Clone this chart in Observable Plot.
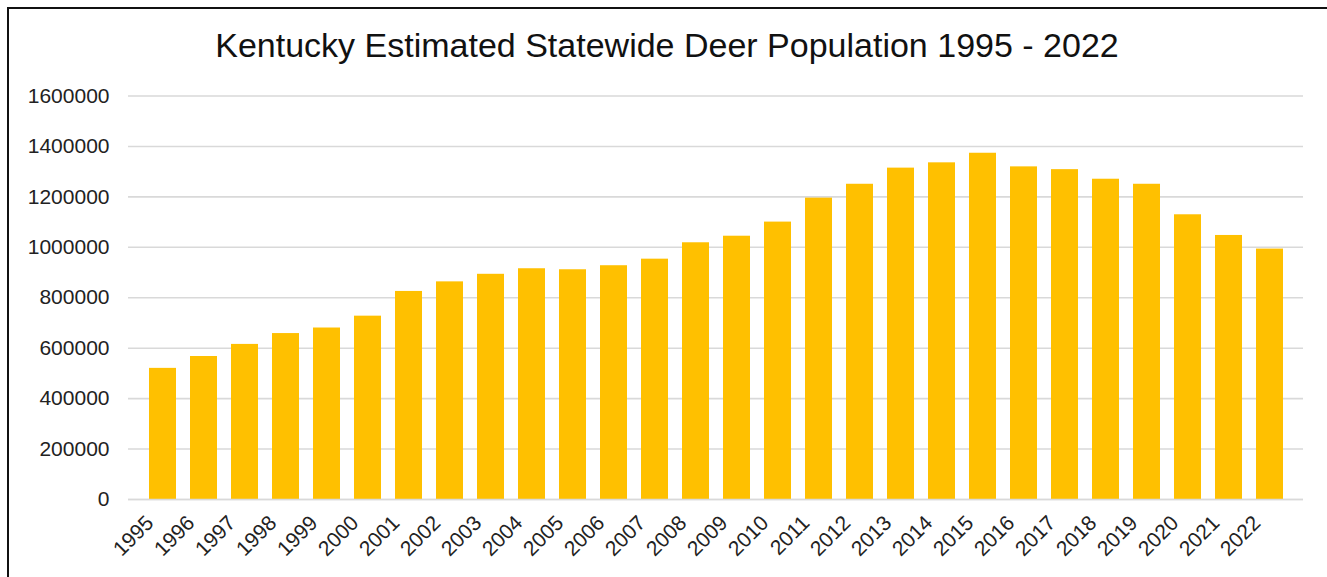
<!DOCTYPE html>
<html>
<head>
<meta charset="utf-8">
<script src="https://cdn.jsdelivr.net/npm/d3@7"></script>
<script src="https://cdn.jsdelivr.net/npm/@observablehq/plot@0.6"></script>
<style>
  html, body { margin: 0; padding: 0; background: #fff; overflow: hidden; width: 1327px; height: 577px; }
  #frame { position: absolute; left: 7px; top: 7px; width: 1500px; height: 800px; border-left: 2px solid #111; border-top: 2px solid #111; }
  #title { position: absolute; left: 0; top: 28px; width: 1334px; text-align: center; font-family: "Liberation Sans", Arial, sans-serif; font-size: 34px; line-height: 34px; color: #111; white-space: nowrap; }
  #chart { position: absolute; left: 0; top: 0; }
</style>
</head>
<body>
<div id="frame"></div>
<div id="title">Kentucky Estimated Statewide Deer Population 1995 - 2022</div>
<div id="chart"></div>
<script>
const years = ["1995","1996","1997","1998","1999","2000","2001","2002","2003","2004","2005","2006","2007","2008","2009","2010","2011","2012","2013","2014","2015","2016","2017","2018","2019","2020","2021","2022"];
const population = [520000, 567000, 615000, 658000, 680000, 727000, 825000, 863000, 893000, 915000, 911000, 927000, 953000, 1018000, 1044000, 1100000, 1195000, 1250000, 1314000, 1335000, 1373000, 1319000, 1308000, 1270000, 1250000, 1129000, 1047000, 993000];
const yTicks = [0, 200000, 400000, 600000, 800000, 1000000, 1200000, 1400000, 1600000];

const data = years.map((year, i) => ({year, value: population[i]}));

const chart = Plot.plot({
  width: 1327,
  height: 577,
  marginTop: 95.5,
  marginBottom: 78,
  marginLeft: 128,
  marginRight: 24,
  style: {fontFamily: "'Liberation Sans', Arial, sans-serif", fontSize: "21px", color: "#222", background: "transparent", overflow: "visible"},
  x: {domain: years, paddingInner: 0.345, paddingOuter: 0.1725, label: null},
  y: {domain: [0, 1600000], label: null},
  marks: [
    Plot.gridY(yTicks, {stroke: "#d9d9d9", strokeOpacity: 1, strokeWidth: 1.6}),
    Plot.barY(data, {x: "year", y: "value", fill: "#FFC000"}),
    Plot.ruleY([0], {stroke: "#d9d9d9", strokeWidth: 1.6}),
    Plot.axisY(yTicks, {tickSize: 0, tickPadding: 19, tickFormat: d3.format("d"), label: null, fontSize: 21}),
    Plot.axisX({tickSize: 0, tickRotate: -45, tickPadding: 6, dx: -13, dy: 14, label: null, fontSize: 21})
  ]
});
document.getElementById("chart").appendChild(chart);
</script>
</body>
</html>
